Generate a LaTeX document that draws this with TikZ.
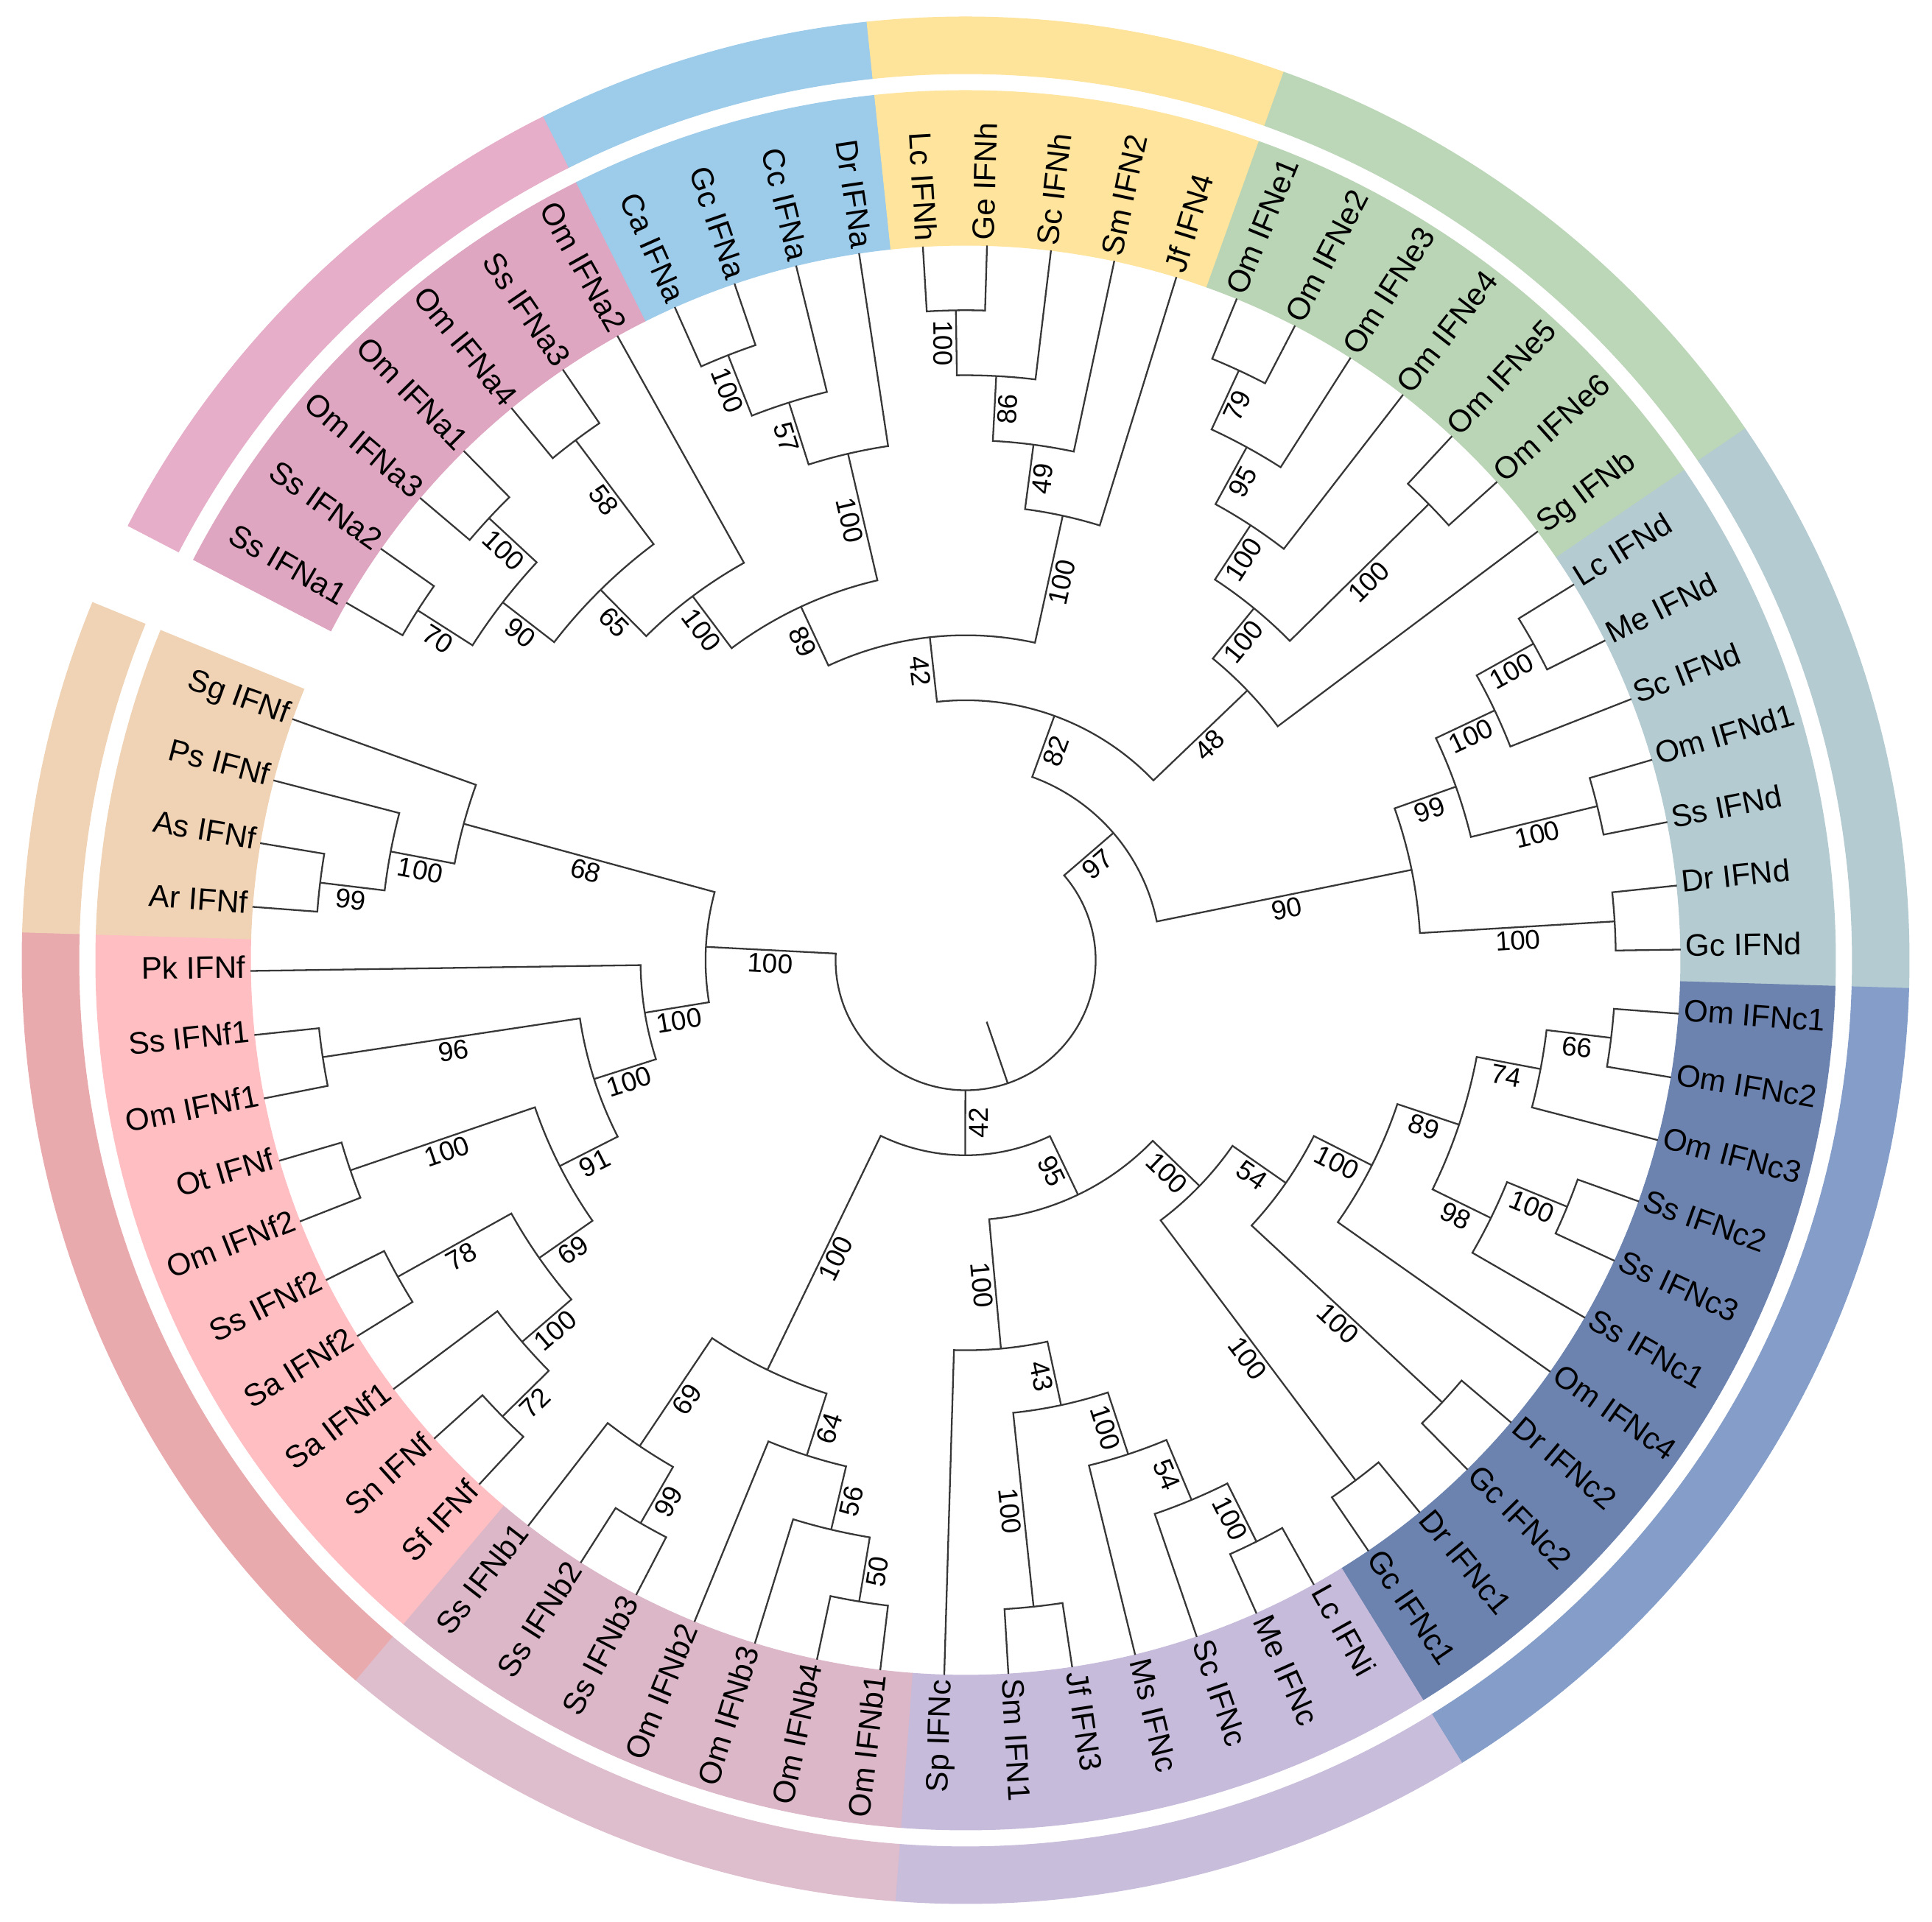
\documentclass[tikz,border=0pt]{standalone}
\usepackage{fontspec}
\setmainfont{Liberation Sans}
\usetikzlibrary{calc}

\definecolor{ringPink}{RGB}{230,174,200}
\definecolor{bandPink}{RGB}{222,166,192}
\definecolor{ringBlue}{RGB}{157,203,234}
\definecolor{bandBlue}{RGB}{157,203,234}
\definecolor{ringYellow}{RGB}{254,227,155}
\definecolor{bandYellow}{RGB}{254,228,157}
\definecolor{ringGreen}{RGB}{188,214,184}
\definecolor{bandGreen}{RGB}{186,213,181}
\definecolor{ringSlate}{RGB}{180,203,209}
\definecolor{bandSlate}{RGB}{180,203,209}
\definecolor{ringNavy}{RGB}{132,158,201}
\definecolor{bandNavy}{RGB}{108,131,176}
\definecolor{ringLilac}{RGB}{200,189,219}
\definecolor{bandLilac}{RGB}{198,187,218}
\definecolor{ringMauve}{RGB}{222,190,205}
\definecolor{bandMauve}{RGB}{219,183,200}
\definecolor{ringRose}{RGB}{233,170,174}
\definecolor{bandRose}{RGB}{255,190,194}
\definecolor{ringPeach}{RGB}{240,210,181}
\definecolor{bandPeach}{RGB}{240,210,181}
\definecolor{branchGray}{RGB}{55,55,55}

% radial step between tree levels (cm)
\newcommand\ringu{0.8827}
% angular step between leaves (deg)
\newcommand\leafstep{5.142857}

% store angle and level of a tree node, and place it
\newcommand\setclade[3]{%
  \expandafter\xdef\csname ang@#1\endcsname{#2}%
  \expandafter\xdef\csname lv@#1\endcsname{#3}%
  \pgfmathsetmacro\radS{#3*\ringu}%
  \coordinate (#1) at (#2:\radS);}

% readable rotation for a radial text
\newcommand\normrot[1]{%
  \pgfmathsetmacro\nrot{(#1>90)?(#1-180):((#1<=-90)?(#1+180):(#1))}%
  \pgfmathtruncatemacro\nflip{((#1>90)||(#1<=-90))?1:0}}

% support value on the stem of a clade
\newcommand\bootlab[2]{%
  \ifcsname bs@#1\endcsname
    \pgfmathsetmacro\angL{\csname ang@#1\endcsname}%
    \pgfmathsetmacro\radL{(\csname lv@#1\endcsname+#2)/2*\ringu}%
    \normrot{\angL}%
    \node[boot, rotate=\nrot] (bs-#1) at (\angL:\radL) {\csname bs@#1\endcsname};%
  \fi}

% internal node: name, child, child, level, support
\newcommand\clade[5]{%
  \pgfmathsetmacro\angA{\csname ang@#2\endcsname}%
  \pgfmathsetmacro\angB{\csname ang@#3\endcsname}%
  \pgfmathsetmacro\angM{(\angA+\angB)/2}%
  \pgfmathsetmacro\radC{#4*\ringu}%
  \draw[branch] (#2) -- (\angA:\radC) arc[start angle=\angA, end angle=\angB, radius=\radC] -- (#3);%
  \bootlab{#2}{#4}\bootlab{#3}{#4}%
  \setclade{#1}{\angM}{#4}%
  \expandafter\xdef\csname bs@#1\endcsname{#5}}

% coloured annular sector
\newcommand\band[5]{%
  \filldraw[fill=#1, draw=#1, line width=0.3pt] (#2:#4) arc[start angle=#2, end angle=#3, radius=#4]
    -- (#3:#5) arc[start angle=#3, end angle=#2, radius=#5] -- cycle;}

\begin{document}
\begin{tikzpicture}[
    % tree lines
    branch/.style={draw=branchGray, line width=0.65pt},
    % leaf names
    leaf/.style={font=\fontsize{12}{14}\selectfont, inner sep=1.5pt},
    % support values
    boot/.style={font=\fontsize{10.5}{12}\selectfont, anchor=north, inner sep=1.2pt}
]
    \useasboundingbox (-13.11,-13.06) rectangle (13.12,13.04);
    \fill[white] (-13.11,-13.06) rectangle (13.12,13.04);

    % --- 1. Clade colours: label band and outer ring ---
    \foreach \ringc/\bandc/\fromA/\toA in {
        ringPink/bandPink/116.571/152.571,
        ringBlue/bandBlue/96.0/116.571,
        ringYellow/bandYellow/70.286/96.0,
        ringGreen/bandGreen/34.286/70.286,
        ringSlate/bandSlate/-1.714/34.286,
        ringNavy/bandNavy/-58.286/-1.714,
        ringLilac/bandLilac/-94.286/-58.286,
        ringMauve/bandMauve/-130.286/-94.286,
        ringRose/bandRose/-181.714/-130.286,
        ringPeach/bandPeach/-202.286/-181.714}{
        \band{\bandc}{\fromA}{\toA}{9.71}{11.81}
        \band{\ringc}{\fromA}{\toA}{12.04}{12.81}
    }

    % --- 2. Leaves ---
    \foreach \leafid/\leaftxt [count=\i] in {
        ssa1/Ss IFNa1, ssa2/Ss IFNa2, oma3/Om IFNa3, oma1/Om IFNa1, oma4/Om IFNa4,
        ssa3/Ss IFNa3, oma2/Om IFNa2, caa/Ca IFNa, gca/Gc IFNa, cca/Cc IFNa, dra/Dr IFNa,
        lch/Lc IFNh, geh/Ge IFNh, sch/Sc IFNh, smtwo/Sm IFN2, jffour/Jf IFN4,
        ome1/Om IFNe1, ome2/Om IFNe2, ome3/Om IFNe3, ome4/Om IFNe4, ome5/Om IFNe5,
        ome6/Om IFNe6, sgb/Sg IFNb,
        lcd/Lc IFNd, med/Me IFNd, scd/Sc IFNd, omd1/Om IFNd1, ssd/Ss IFNd, drd/Dr IFNd, gcd/Gc IFNd,
        omc1/Om IFNc1, omc2/Om IFNc2, omc3/Om IFNc3, ssc2/Ss IFNc2, ssc3/Ss IFNc3, ssc1/Ss IFNc1,
        omc4/Om IFNc4, drc2/Dr IFNc2, gcc2/Gc IFNc2, drc1/Dr IFNc1, gcc1/Gc IFNc1,
        lci/Lc IFNi, mec/Me IFNc, scc/Sc IFNc, msc/Ms IFNc, jfthree/Jf IFN3, smone/Sm IFN1, spc/Sp IFNc,
        omb1/Om IFNb1, omb4/Om IFNb4, omb3/Om IFNb3, omb2/Om IFNb2, ssb3/Ss IFNb3, ssb2/Ss IFNb2, ssb1/Ss IFNb1,
        sff/Sf IFNf, snf/Sn IFNf, saf1/Sa IFNf1, saf2/Sa IFNf2, ssf2/Ss IFNf2, omf2/Om IFNf2,
        otf/Ot IFNf, omf1/Om IFNf1, ssf1/Ss IFNf1, pkf/Pk IFNf,
        arf/Ar IFNf, asf/As IFNf, psf/Ps IFNf, sgf/Sg IFNf}{
        \pgfmathsetmacro\leafang{150-(\i-1)*\leafstep}
        \setclade{\leafid}{\leafang}{11}
        \normrot{\leafang}
        \ifnum\nflip=1 \def\lanc{mid east}\else\def\lanc{mid west}\fi
        \node[leaf, rotate=\nrot, anchor=\lanc] (lab-\leafid) at (\leafang:9.72) {\leaftxt};
    }

    % --- 3. IFNa ---
    \clade{a70}{ssa1}{ssa2}{10}{70}
    \clade{a13}{oma3}{oma1}{10}{100}
    \clade{a90}{a70}{a13}{9}{90}
    \clade{a58}{oma4}{ssa3}{10}{58}
    \clade{a65}{a90}{a58}{8}{65}
    \clade{apk}{a65}{oma2}{7}{100}
    \clade{acg}{caa}{gca}{10}{100}
    \clade{a57}{acg}{cca}{9}{57}
    \clade{adr}{a57}{dra}{8}{100}
    \clade{a89}{apk}{adr}{6}{89}

    % --- 4. IFNh ---
    \clade{hlg}{lch}{geh}{10}{100}
    \clade{h86}{hlg}{sch}{9}{86}
    \clade{h49}{h86}{smtwo}{8}{49}
    \clade{hjf}{h49}{jffour}{7}{100}
    \clade{t42}{a89}{hjf}{5}{42}

    % --- 5. IFNe ---
    \clade{e79}{ome1}{ome2}{10}{79}
    \clade{e95}{e79}{ome3}{9}{95}
    \clade{e4}{e95}{ome4}{8}{100}
    \clade{e56}{ome5}{ome6}{10}{100}
    \clade{eall}{e4}{e56}{7}{100}
    \clade{e48}{eall}{sgb}{6}{48}
    \clade{t82}{t42}{e48}{4}{82}

    % --- 6. IFNd ---
    \clade{dlm}{lcd}{med}{10}{100}
    \clade{dsc}{dlm}{scd}{9}{100}
    \clade{dos}{omd1}{ssd}{10}{100}
    \clade{d99}{dsc}{dos}{8}{99}
    \clade{ddg}{drd}{gcd}{10}{100}
    \clade{d90}{d99}{ddg}{7}{90}
    \clade{t97}{t82}{d90}{3}{97}

    % --- 7. IFNc ---
    \clade{c66}{omc1}{omc2}{10}{66}
    \clade{c74}{c66}{omc3}{9}{74}
    \clade{css}{ssc2}{ssc3}{10}{100}
    \clade{c98}{css}{ssc1}{9}{98}
    \clade{c89}{c74}{c98}{8}{89}
    \clade{c4}{c89}{omc4}{7}{100}
    \clade{cdg2}{drc2}{gcc2}{10}{100}
    \clade{c54}{c4}{cdg2}{6}{54}
    \clade{cdg1}{drc1}{gcc1}{10}{100}
    \clade{call}{c54}{cdg1}{5}{100}

    % --- 8. IFNi and relatives ---
    \clade{iml}{lci}{mec}{10}{100}
    \clade{i54}{iml}{scc}{9}{54}
    \clade{ims}{i54}{msc}{8}{100}
    \clade{isj}{jfthree}{smone}{10}{100}
    \clade{i43}{ims}{isj}{7}{43}
    \clade{isp}{i43}{spc}{6}{100}
    \clade{b95}{call}{isp}{4}{95}

    % --- 9. IFNb ---
    \clade{b50}{omb1}{omb4}{10}{50}
    \clade{b56}{b50}{omb3}{9}{56}
    \clade{b64}{b56}{omb2}{8}{64}
    \clade{bss}{ssb3}{ssb2}{10}{99}
    \clade{b69}{bss}{ssb1}{9}{69}
    \clade{ball}{b64}{b69}{7}{100}
    \clade{b42}{ball}{b95}{3}{42}

    % --- 10. IFNf ---
    \clade{f72}{sff}{snf}{10}{72}
    \clade{f100b}{f72}{saf1}{9}{100}
    \clade{f78}{saf2}{ssf2}{10}{78}
    \clade{f69}{f100b}{f78}{8}{69}
    \clade{fot}{omf2}{otf}{10}{100}
    \clade{f91}{f69}{fot}{7}{91}
    \clade{f96}{omf1}{ssf1}{10}{96}
    \clade{fmid}{f91}{f96}{6}{100}
    \clade{fpk}{fmid}{pkf}{5}{100}
    \clade{f99}{arf}{asf}{10}{99}
    \clade{fps}{f99}{psf}{9}{100}
    \clade{f68}{fps}{sgf}{8}{68}
    \clade{fall}{fpk}{f68}{4}{100}

    % --- 11. Root ---
    \clade{root}{fall}{t97}{2}{}
    \pgfmathsetmacro\angR{\csname ang@b42\endcsname}
    \draw[branch] (\angR:2*\ringu) -- (b42);
    \bootlab{b42}{2}
    \pgfmathsetmacro\angR{\csname ang@root\endcsname}
    \coordinate (rootbase) at (\angR:\ringu);
    \draw[branch] (root) -- (rootbase);

\end{tikzpicture}
\end{document}
